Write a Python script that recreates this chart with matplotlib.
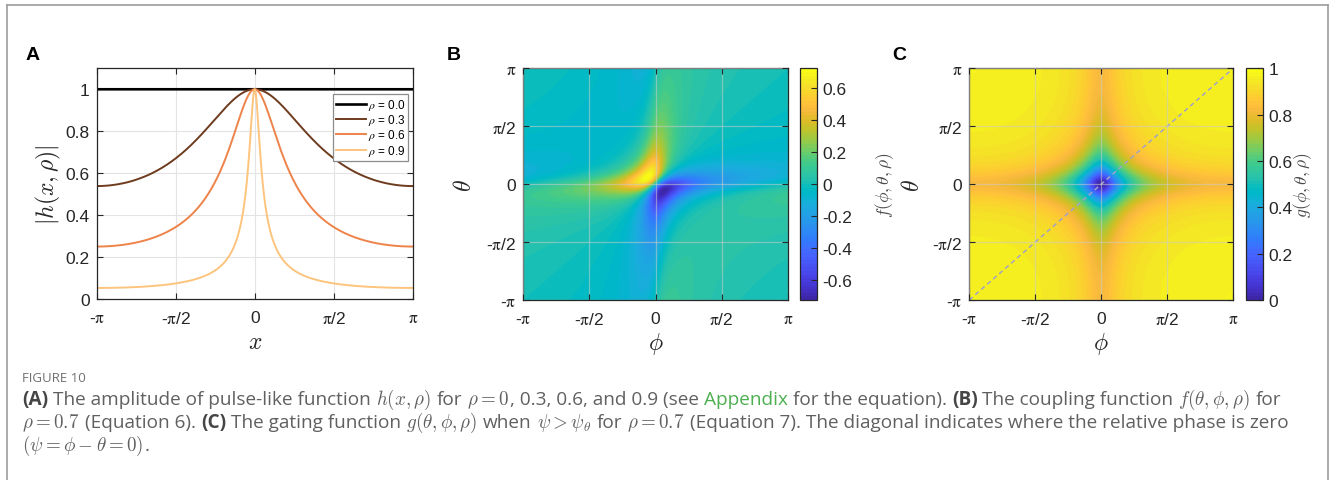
import numpy as np
import matplotlib
matplotlib.use('Agg')
import matplotlib.pyplot as plt
from matplotlib.colors import ListedColormap
from matplotlib.lines import Line2D

# ---------------- data ----------------
rho_values = [0.0, 0.3, 0.6, 0.9]
rho_labels = [r'$\rho$ = 0.0', r'$\rho$ = 0.3', r'$\rho$ = 0.6', r'$\rho$ = 0.9']
line_colors = ['#000000', '#6E3B1E', '#EE8349', '#FDC47E']
line_widths = [1.9, 1.4, 1.4, 1.4]
rho_map = 0.7                 # rho used in panels B and C
phase_ticks = [-np.pi, -np.pi / 2, 0, np.pi / 2, np.pi]
phase_ticklabels = [r'-$\mathrm{\pi}$', r'-$\mathrm{\pi}$/2', '0', r'$\mathrm{\pi}$/2', r'$\mathrm{\pi}$']
amp_ticks = [0, 0.2, 0.4, 0.6, 0.8, 1.0]
amp_ticklabels = ['0', '0.2', '0.4', '0.6', '0.8', '1']
amp_limits = [0, 1.1]
f_cbar_ticks = [-0.6, -0.4, -0.2, 0, 0.2, 0.4, 0.6]
f_cbar_labels = ['-0.6', '-0.4', '-0.2', '0', '0.2', '0.4', '0.6']
g_cbar_ticks = [0, 0.2, 0.4, 0.6, 0.8, 1.0]
g_cbar_labels = ['0', '0.2', '0.4', '0.6', '0.8', '1']
g_limits = [0, 1]

# MATLAB parula colormap (64 entries)
_parula = """
0.2422 0.1504 0.6603 0.2504 0.1650 0.7076 0.2578 0.1818 0.7511 0.2647 0.1978 0.7952
0.2706 0.2147 0.8364 0.2751 0.2342 0.8710 0.2783 0.2559 0.8991 0.2803 0.2782 0.9221
0.2813 0.3006 0.9414 0.2810 0.3228 0.9579 0.2795 0.3447 0.9717 0.2760 0.3667 0.9829
0.2699 0.3892 0.9906 0.2602 0.4123 0.9952 0.2440 0.4358 0.9988 0.2206 0.4603 0.9973
0.1963 0.4847 0.9892 0.1834 0.5074 0.9798 0.1786 0.5289 0.9682 0.1764 0.5499 0.9520
0.1687 0.5703 0.9359 0.1540 0.5902 0.9218 0.1460 0.6091 0.9079 0.1380 0.6276 0.8973
0.1248 0.6459 0.8883 0.1113 0.6635 0.8763 0.0952 0.6798 0.8598 0.0689 0.6948 0.8394
0.0297 0.7082 0.8163 0.0036 0.7203 0.7917 0.0067 0.7312 0.7660 0.0433 0.7411 0.7394
0.0964 0.7500 0.7120 0.1408 0.7584 0.6842 0.1717 0.7670 0.6554 0.1938 0.7758 0.6251
0.2161 0.7843 0.5923 0.2470 0.7918 0.5567 0.2906 0.7973 0.5188 0.3406 0.8008 0.4789
0.3909 0.8029 0.4354 0.4456 0.8024 0.3909 0.5044 0.7993 0.3480 0.5616 0.7942 0.3045
0.6174 0.7876 0.2612 0.6720 0.7793 0.2227 0.7242 0.7698 0.1910 0.7738 0.7598 0.1646
0.8203 0.7498 0.1535 0.8634 0.7406 0.1596 0.9035 0.7330 0.1774 0.9393 0.7288 0.2100
0.9728 0.7298 0.2394 0.9956 0.7434 0.2371 0.9970 0.7659 0.2199 0.9952 0.7893 0.2028
0.9892 0.8136 0.1885 0.9786 0.8386 0.1766 0.9676 0.8639 0.1643 0.9610 0.8890 0.1537
0.9597 0.9135 0.1423 0.9628 0.9373 0.1265 0.9691 0.9606 0.1064 0.9769 0.9839 0.0805
"""
parula = ListedColormap(np.array(_parula.split(), float).reshape(-1, 3), name='parula')


def h(x, rho):
    """pulse-like function"""
    return (1 - rho) / (1 - rho * np.exp(1j * x))


# ---------------- figure ----------------
plt.rcParams['font.family'] = ['Liberation Sans', 'DejaVu Sans']
plt.rcParams['mathtext.fontset'] = 'stix'
W, H = 1330, 481
fig = plt.figure(figsize=(W / 100, H / 100), dpi=100)
fig.patch.set_facecolor('white')


def box(l, r, t, b):
    return [l / W, 1 - b / H, (r - l) / W, (b - t) / H]


axA = fig.add_axes(box(96.7, 412.7, 69.3, 300))
axB = fig.add_axes(box(523.3, 787.7, 69.3, 301))
caxB = fig.add_axes(box(800.3, 816.7, 69.3, 301))
axC = fig.add_axes(box(969.3, 1233.3, 69.3, 301))
caxC = fig.add_axes(box(1246.3, 1262.7, 69.3, 301))

TXT = '#262626'
TS = 12.5


def style(ax):
    ax.tick_params(direction='in', length=4, width=0.8, top=True, right=True,
                   labelsize=TS, colors=TXT)
    ax.tick_params(axis='x', pad=8)
    ax.tick_params(axis='y', pad=5)
    for s in ax.spines.values():
        s.set_color(TXT)
        s.set_linewidth(0.9)


# ---- Panel A ----
x = np.linspace(phase_ticks[0], phase_ticks[-1], 1201)
for rho, lab, c, lw in zip(rho_values, rho_labels, line_colors, line_widths):
    axA.plot(x, np.abs(h(x, rho)), color=c, lw=lw, label=lab)
axA.set_xlim(phase_ticks[0], phase_ticks[-1])
axA.set_ylim(*amp_limits)
axA.set_xticks(phase_ticks)
axA.set_xticklabels(phase_ticklabels)
axA.set_yticks(amp_ticks)
axA.set_yticklabels(amp_ticklabels)
axA.grid(True, color='#e4e4e4', lw=0.8)
axA.set_axisbelow(True)
style(axA)
axA.set_ylabel(r'$|h(x,\rho)|$', fontsize=17, math_fontfamily='cm', color=TXT)
axA.set_xlabel(r'$x$', fontsize=17, math_fontfamily='cm', color=TXT)
axA.yaxis.set_label_coords(-0.154, 0.5)
axA.xaxis.set_label_coords(0.5, -0.186)
axA.yaxis.label.set_va('center')
axA.xaxis.label.set_va('center')
leg = axA.legend(loc='upper right', bbox_to_anchor=(0.986, 0.8886), fontsize=8.5,
                 frameon=True, fancybox=False, framealpha=1, edgecolor='#8c8c8c',
                 handlelength=2.5, handletextpad=0.15, labelspacing=0.02,
                 borderpad=0.25, borderaxespad=0)
leg.get_frame().set_linewidth(0.9)

# ---- grids for B and C ----
ph = np.linspace(phase_ticks[0], phase_ticks[-1], 401)
PHI, TH = np.meshgrid(ph, ph)
Hp = h(PHI, rho_map) * np.exp(1j * PHI)
Ht = h(TH, rho_map) * np.exp(1j * TH)
F = (Ht * np.conj(Hp)).imag                      # coupling function
G = 1 - np.abs(h(PHI, rho_map)) * np.abs(h(TH, rho_map))   # gating function

ext = [phase_ticks[0], phase_ticks[-1], phase_ticks[0], phase_ticks[-1]]


def heat(ax, cax, Z, vmin, vmax, cticks, clabels, clabel, lab_x):
    im = ax.imshow(Z, extent=ext, origin='lower', cmap=parula, vmin=vmin, vmax=vmax,
                   aspect='auto', interpolation='bilinear')
    ax.set_xticks(phase_ticks)
    ax.set_xticklabels(phase_ticklabels)
    ax.set_yticks(phase_ticks)
    ax.set_yticklabels(phase_ticklabels)
    ax.grid(True, color=(0.8, 0.8, 0.8), alpha=0.55, lw=0.9)
    ax.set_axisbelow(False)
    style(ax)
    ax.set_xlabel(r'$\phi$', fontsize=17, math_fontfamily='cm', color=TXT)
    ax.set_ylabel(r'$\theta$', fontsize=17, math_fontfamily='cm', color=TXT)
    ax.xaxis.set_label_coords(0.5, -0.186)
    ax.xaxis.label.set_va('center')
    ax.yaxis.label.set_va('center')
    cb = fig.colorbar(im, cax=cax)
    cb.set_ticks(cticks)
    cb.set_ticklabels(clabels)
    cax.tick_params(direction='in', length=4, width=0.8, labelsize=TS, colors=TXT, pad=4)
    cb.outline.set_edgecolor(TXT)
    cb.outline.set_linewidth(0.9)
    cax.set_ylabel(clabel, fontsize=12.5, math_fontfamily='cm', color='#4a4a4a')
    cax.yaxis.set_label_coords(lab_x, 0.5)
    cax.yaxis.label.set_va('center')
    return im


heat(axB, caxB, F, F.min(), F.max(), f_cbar_ticks, f_cbar_labels,
     r'$f(\phi,\theta,\rho)$', 5.16)
axB.yaxis.set_label_coords(-0.22, 0.5)
heat(axC, caxC, G, g_limits[0], g_limits[1], g_cbar_ticks, g_cbar_labels,
     r'$g(\phi,\theta,\rho)$', 3.46)
axC.yaxis.set_label_coords(-0.213, 0.5)
axC.plot([phase_ticks[0], phase_ticks[-1]], [phase_ticks[0], phase_ticks[-1]],
         color='#a2a2c6', lw=1.1, dashes=(3, 2.2))

# panel letters
for lx, lab in [(26, 'A'), (447, 'B'), (892, 'C')]:
    fig.text(lx / W, 1 - 56 / H, lab, fontsize=14, fontweight='bold', va='center', ha='left',
             color='black')

# border lines
bc = '#9c9c9c'
fig.add_artist(Line2D([7 / W, 7 / W], [0, 1 - 6 / H], color=bc, lw=1.2, transform=fig.transFigure))
fig.add_artist(Line2D([7 / W, 1327.5 / W], [1 - 6 / H, 1 - 6 / H], color=bc, lw=1.2, transform=fig.transFigure))
fig.add_artist(Line2D([1327.5 / W, 1327.5 / W], [0, 1 - 6 / H], color=bc, lw=1.2, transform=fig.transFigure))

# ---------------- caption ----------------
cap_color = '#606060'
fig.text(22 / W, 1 - 382 / H, 'FIGURE 10', fontsize=9.5, color='#707070',
         family='Open Sans', va='baseline', ha='left')

lines = [
    (405, [('(A)', 'b', False), ('The amplitude of pulse-like function', 'n', True),
           (r'$h(x,\rho)$', 'm', True), ('for', 'n', True), (r'$\rho=0$', 'm', True),
           (', 0.3, 0.6, and 0.9 (see', 'n', False), ('Appendix', 'g', True),
           ('for the equation).', 'n', True), ('(B)', 'b', True),
           ('The coupling function', 'n', True), (r'$f(\theta,\phi,\rho)$', 'm', True),
           ('for', 'n', True)]),
    (428, [(r'$\rho=0.7$', 'm', False), ('(Equation 6).', 'n', True), ('(C)', 'b', True),
           ('The gating function', 'n', True), (r'$g(\theta,\phi,\rho)$', 'm', True),
           ('when', 'n', True), (r'$\psi>\psi_\theta$', 'm', True), ('for', 'n', True),
           (r'$\rho=0.7$', 'm', True),
           ('(Equation 7). The diagonal indicates where the relative phase is zero', 'n', True)]),
    (451, [(r'$(\psi=\phi-\theta=0)$', 'm', False), ('.', 'n', False)]),
]

renderer = fig.canvas.get_renderer()


def layout(size):
    made = []
    t1 = fig.text(0, 0, 'a a', fontsize=size, family='Open Sans')
    t2 = fig.text(0, 0, 'aa', fontsize=size, family='Open Sans')
    sp = t1.get_window_extent(renderer).width - t2.get_window_extent(renderer).width
    t1.remove(); t2.remove()
    ends = []
    for yb, segs in lines:
        xx = 22.0
        for s, kind, space in segs:
            if space:
                xx += sp
            kw = dict(fontsize=size, color=cap_color, family='Open Sans', va='baseline', ha='left')
            if kind == 'b':
                kw.update(fontweight='bold', color='#454545')
            elif kind == 'g':
                kw.update(color='#4CAF50')
            elif kind == 'm':
                kw.update(math_fontfamily='cm')
            t = fig.text(xx / W, 1 - yb / H, s, **kw)
            made.append(t)
            xx = t.get_window_extent(renderer).x1 + (1.0 if kind == 'm' else 0)
        ends.append(xx)
    return made, ends


size0 = 11.0
made, ends = layout(size0)
target = 1290.0
size1 = size0 * (target - 22) / (ends[0] - 22)
for t in made:
    t.remove()
made, ends = layout(size1)

fig.savefig('out.png', dpi=100, facecolor='white')
